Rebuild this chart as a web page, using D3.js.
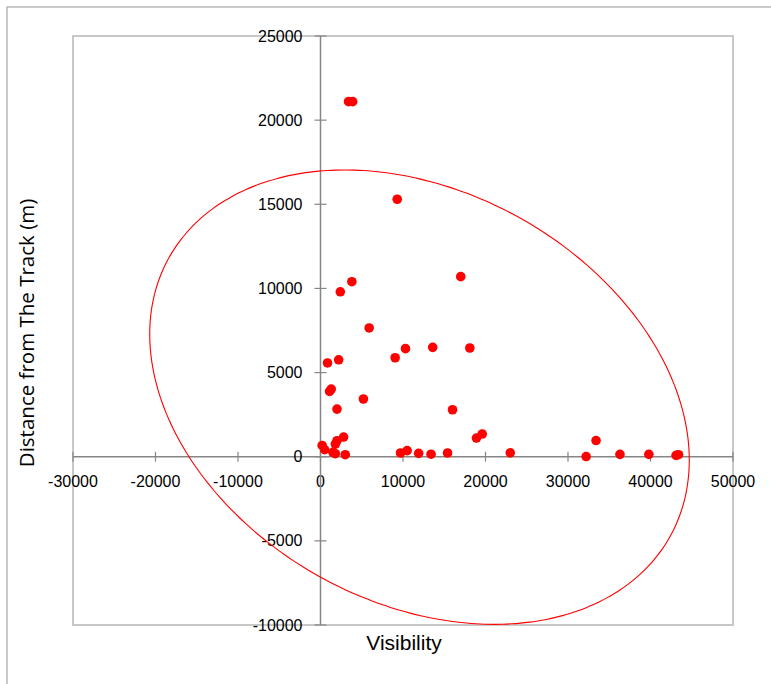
<!DOCTYPE html>
<html><head><meta charset="utf-8">
<script src="https://cdn.jsdelivr.net/npm/d3@7"></script>
<style>body{margin:0;background:#fff}svg{display:block}</style>
</head><body>
<script>
const visibility = [3400,3900,9300,17000,3800,2400,5900,10300,13600,18100,9050,850,2200,1300,1100,5200,2000,16000,18900,19600,2800,2000,1800,200,500,1500,1800,3000,9700,10500,11900,13400,15400,23000,32200,33400,36300,39800,43100,43400];
const distance   = [21100,21100,15300,10700,10400,9800,7650,6420,6500,6460,5880,5570,5760,4020,3880,3430,2830,2790,1110,1350,1170,950,750,670,420,260,180,120,220,360,200,150,220,230,10,960,140,140,80,120];
const xTicks = [-30000,-20000,-10000,0,10000,20000,30000,40000,50000];
const yTicks = [-10000,-5000,0,5000,10000,15000,20000,25000];
// ellipse (data units): centre, half extents, correlation
const ellCenter = [12000,3540];
const ellHalf = [32700,13500];
const ellRho = -0.277;

const W=771,H=684;
const svg=d3.select("body").append("svg").attr("width",W).attr("height",H);
svg.append("rect").attr("x",7).attr("y",7).attr("width",W+10).attr("height",H+10).attr("fill","none").attr("stroke","#a6a6a6").attr("stroke-width",1.2);

const x=d3.scaleLinear().domain([-30000,50000]).range([73,733]);
const y=d3.scaleLinear().domain([-10000,25000]).range([625,36]);

svg.append("rect").attr("x",73).attr("y",36).attr("width",660).attr("height",589).attr("fill","none").attr("stroke","#c8c8c8").attr("stroke-width",2);

const font="'Liberation Sans Narrow','Liberation Sans',Arial,sans-serif";
const gx=svg.append("g").attr("transform",`translate(0,${y(0)})`);
gx.append("line").attr("x1",x(-30000)).attr("x2",x(50000)).attr("stroke","#868686").attr("stroke-width",1.5);
gx.selectAll("line.t").data(xTicks).join("line").attr("class","t").attr("x1",d=>x(d)).attr("x2",d=>x(d)).attr("y1",-5).attr("y2",5).attr("stroke","#868686").attr("stroke-width",1.2);
gx.selectAll("text").data(xTicks).join("text").attr("x",d=>x(d)).attr("y",30).attr("text-anchor","middle").attr("font-family",font).attr("font-size",16).attr("fill","#000").text(d=>d);

const gy=svg.append("g").attr("transform",`translate(${x(0)},0)`);
gy.append("line").attr("y1",y(-10000)).attr("y2",y(25000)).attr("stroke","#868686").attr("stroke-width",1.5);
gy.selectAll("line.t").data(yTicks).join("line").attr("class","t").attr("y1",d=>y(d)).attr("y2",d=>y(d)).attr("x1",-6).attr("x2",6).attr("stroke","#868686").attr("stroke-width",1.2);
gy.selectAll("text").data(yTicks).join("text").attr("x",-18).attr("y",d=>y(d)).attr("dy","0.35em").attr("text-anchor","end").attr("font-family",font).attr("font-size",16).attr("fill","#000").text(d=>d);

const ts=d3.range(0,361,2).map(a=>a*Math.PI/180);
const s=Math.sqrt(1-ellRho*ellRho);
const ell=ts.map(t=>[ellCenter[0]+ellHalf[0]*Math.cos(t), ellCenter[1]+ellHalf[1]*(ellRho*Math.cos(t)+s*Math.sin(t))]);
svg.append("path").attr("d",d3.line().x(d=>x(d[0])).y(d=>y(d[1])).curve(d3.curveCardinalClosed)(ell.slice(0,-1))).attr("fill","none").attr("stroke","#ff0000").attr("stroke-width",1.1);

svg.selectAll("circle.p").data(visibility.map((v,i)=>[v,distance[i]])).join("circle").attr("class","p").attr("cx",d=>x(d[0])).attr("cy",d=>y(d[1])).attr("r",4.8).attr("fill","#ff0000");

svg.append("text").attr("x",404).attr("y",650).attr("text-anchor","middle").attr("font-family",font).attr("font-size",21).text("Visibility");
svg.append("text").attr("transform","translate(34,333) rotate(-90)").attr("text-anchor","middle").attr("font-family","'Open Sans','Liberation Sans',sans-serif").attr("font-size",20.5).text("Distance from The Track (m)");
</script>
</body></html>
